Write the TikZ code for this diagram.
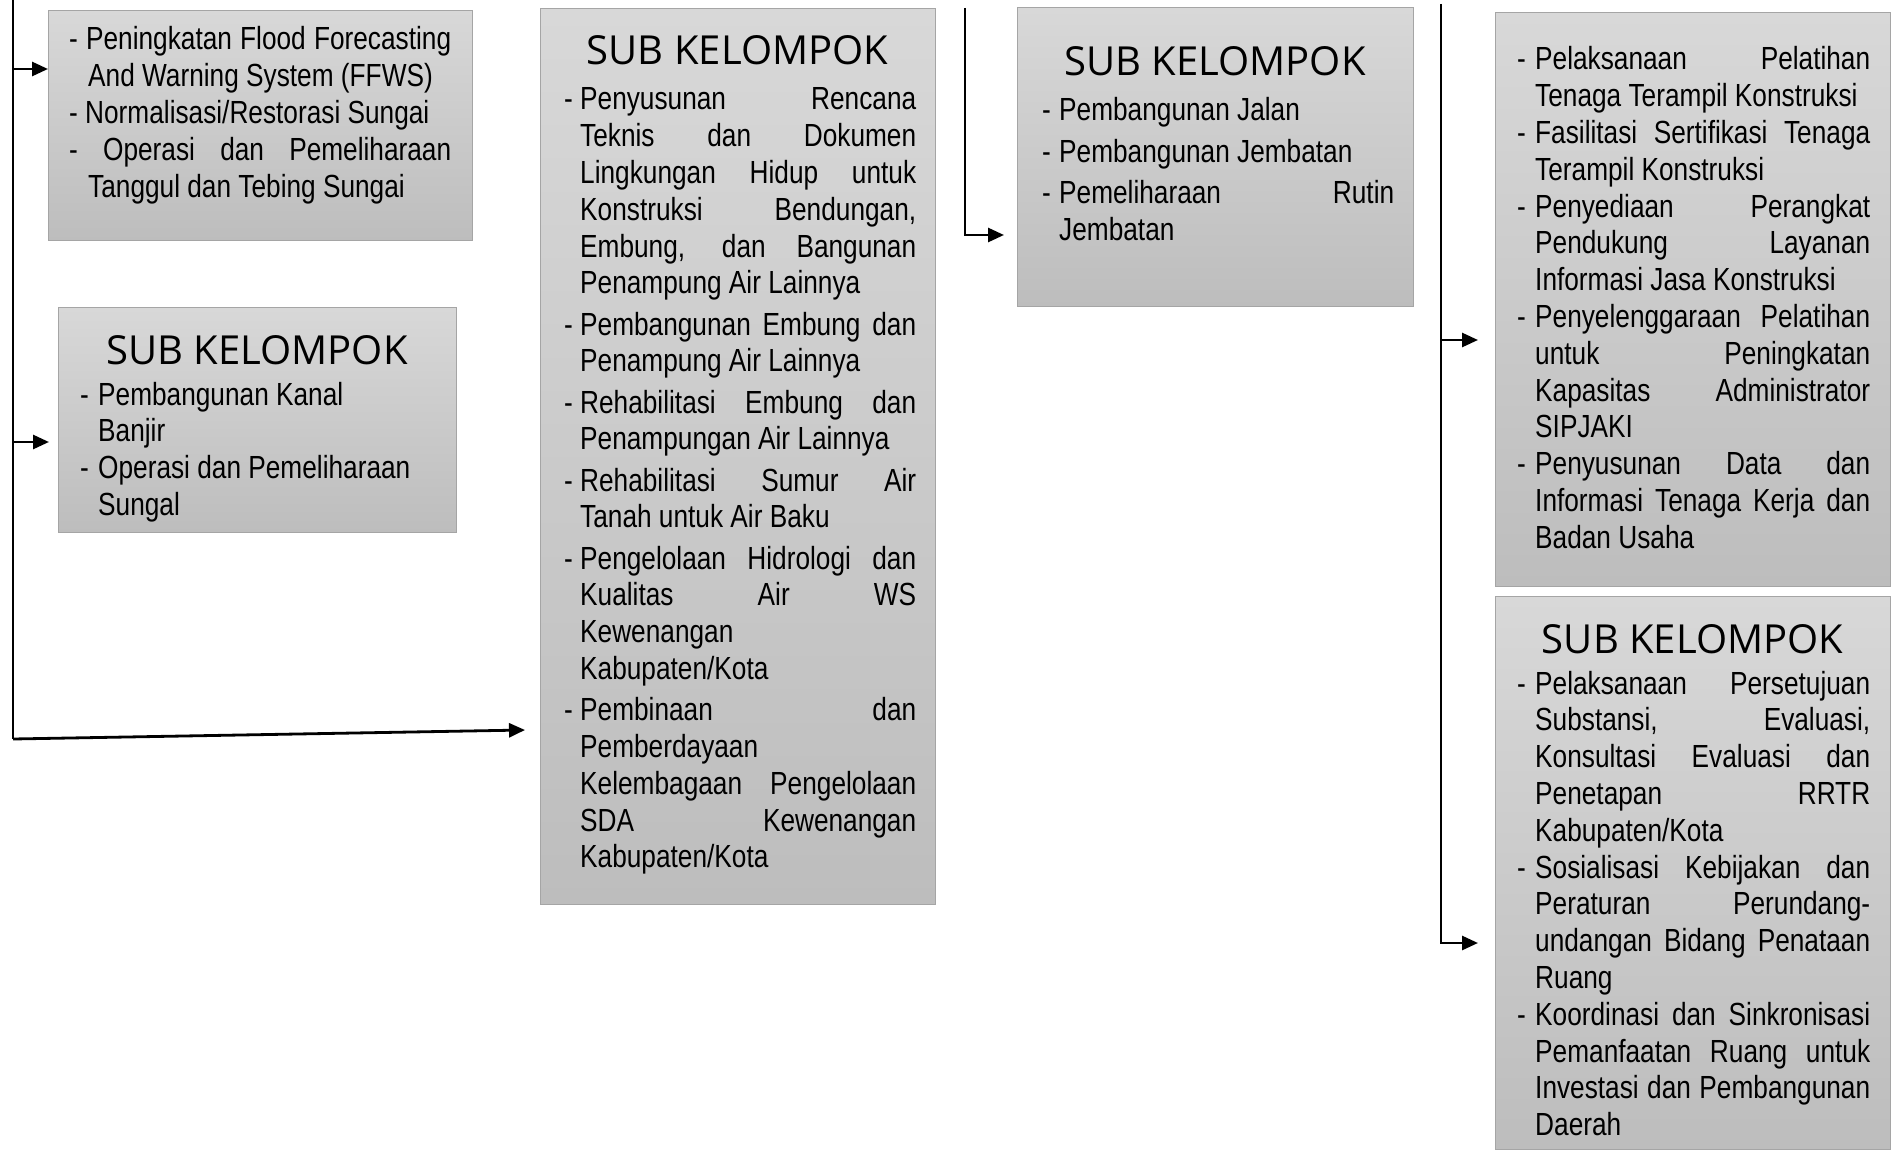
\documentclass[tikz,border=0pt]{standalone}
\usepackage{fontspec}
\newfontfamily\bodyfont{Liberation Sans}[FakeStretch=0.82]
\newfontfamily\headfont{Open Sans}
\usetikzlibrary{arrows.meta}
\definecolor{boxtop}{RGB}{216,216,216}
\definecolor{boxbot}{RGB}{189,189,189}
\definecolor{boxline}{RGB}{165,165,165}
\newdimen\hind
\newcommand\myIJ[1]{\hbox to \hsize{\hbox to \hind{-\hss}#1}}
\newcommand\myIR[1]{\hbox to \hsize{\hbox to \hind{-\hss}#1\hfil}}
\newcommand\myCJ[1]{\hbox to \hsize{\hskip\hind #1}}
\newcommand\myCR[1]{\hbox to \hsize{\hskip\hind #1\hfil}}
\newcommand\myPJ[1]{\hbox to \hsize{#1}}
\newcommand\myPR[1]{\hbox to \hsize{#1\hfil}}
\newcommand\igap{\vskip 4.4pt}
\newcommand\txtblock[3]{\vtop{\hsize=#1\hind=#2\baselineskip=36.8pt\lineskiplimit=-1000pt\lineskip=0pt #3}}
\tikzset{
  sbox/.style={rectangle, anchor=north west, inner sep=0pt, draw=boxline, line width=1.2pt,
    top color=boxtop, bottom color=boxbot},
  btext/.style={anchor=base west, inner sep=0pt, font=\bodyfont\fontsize{32}{36.8}\selectfont},
  head/.style={anchor=base, inner sep=0pt, font=\headfont\fontsize{40}{46}\selectfont},
  conn/.style={line width=2.8pt, black},
  arr/.style={conn, -{Triangle[length=16pt,width=14pt]}}
}
\begin{document}
\begin{tikzpicture}[x=1pt,y=-1pt]
\useasboundingbox (0,0) rectangle (1897,1155);
% boxes
\node[sbox, minimum width=424pt, minimum height=230pt] (b1) at (48,10) {};
\node[sbox, minimum width=398pt, minimum height=225pt] (b2) at (58,307) {};
\node[sbox, minimum width=395pt, minimum height=896pt] (b3) at (540,8) {};
\node[sbox, minimum width=396pt, minimum height=299pt] (b4) at (1017,7) {};
\node[sbox, minimum width=395pt, minimum height=574pt] (b5) at (1495,12) {};
\node[sbox, minimum width=395pt, minimum height=553pt] (b6) at (1495,596) {};
% headings
\node[head] (h2) at (257,364) {SUB KELOMPOK};
\node[head] (h3) at (737.5,65) {SUB KELOMPOK};
\node[head] (h4) at (1215,76) {SUB KELOMPOK};
\node[head] (h6) at (1692.5,653) {SUB KELOMPOK};
% texts
\node[btext] (t1) at (69,50) {\txtblock{382pt}{19pt}{%
  \myPJ{- Peningkatan Flood Forecasting}
  \myCR{And Warning System (FFWS)}
  \myPR{- Normalisasi/Restorasi Sungai}
  \myPJ{- Operasi dan Pemeliharaan}
  \myCR{Tanggul dan Tebing Sungai}}};
\node[btext] (t2) at (80,405) {\txtblock{340pt}{18pt}{%
  \myIR{Pembangunan Kanal}
  \myCR{Banjir}
  \myIR{Operasi dan Pemeliharaan}
  \myCR{Sungal}}};
\node[btext] (t3) at (564,110) {\txtblock{352pt}{16pt}{%
  \myIJ{Penyusunan Rencana}
  \myCJ{Teknis dan Dokumen}
  \myCJ{Lingkungan Hidup untuk}
  \myCJ{Konstruksi Bendungan,}
  \myCJ{Embung, dan Bangunan}
  \myCR{Penampung Air Lainnya}\igap
  \myIJ{Pembangunan Embung dan}
  \myCR{Penampung Air Lainnya}\igap
  \myIJ{Rehabilitasi Embung dan}
  \myCR{Penampungan Air Lainnya}\igap
  \myIJ{Rehabilitasi Sumur Air}
  \myCR{Tanah untuk Air Baku}\igap
  \myIJ{Pengelolaan Hidrologi dan}
  \myCJ{Kualitas Air WS}
  \myCR{Kewenangan}
  \myCR{Kabupaten/Kota}\igap
  \myIJ{Pembinaan dan}
  \myCR{Pemberdayaan}
  \myCJ{Kelembagaan Pengelolaan}
  \myCJ{SDA Kewenangan}
  \myCR{Kabupaten/Kota}}};
\node[btext] (t4) at (1042,121) {\txtblock{352pt}{17pt}{%
  \myIR{Pembangunan Jalan}\igap
  \myIR{Pembangunan Jembatan}\igap
  \myIJ{Pemeliharaan Rutin}
  \myCR{Jembatan}}};
\node[btext] (t5) at (1517,70) {\txtblock{353pt}{18pt}{%
  \myIJ{Pelaksanaan Pelatihan}
  \myCR{Tenaga Terampil Konstruksi}
  \myIJ{Fasilitasi Sertifikasi Tenaga}
  \myCR{Terampil Konstruksi}
  \myIJ{Penyediaan Perangkat}
  \myCJ{Pendukung Layanan}
  \myCR{Informasi Jasa Konstruksi}
  \myIJ{Penyelenggaraan Pelatihan}
  \myCJ{untuk Peningkatan}
  \myCJ{Kapasitas Administrator}
  \myCR{SIPJAKI}
  \myIJ{Penyusunan Data dan}
  \myCJ{Informasi Tenaga Kerja dan}
  \myCR{Badan Usaha}}};
\node[btext] (t6) at (1517,694) {\txtblock{353pt}{18pt}{%
  \myIJ{Pelaksanaan Persetujuan}
  \myCJ{Substansi, Evaluasi,}
  \myCJ{Konsultasi Evaluasi dan}
  \myCJ{Penetapan RRTR}
  \myCR{Kabupaten/Kota}
  \myIJ{Sosialisasi Kebijakan dan}
  \myCJ{Peraturan Perundang-}
  \myCJ{undangan Bidang Penataan}
  \myCR{Ruang}
  \myIJ{Koordinasi dan Sinkronisasi}
  \myCJ{Pemanfaatan Ruang untuk}
  \myCJ{Investasi dan Pembangunan}
  \myCR{Daerah}}};
% connectors
\coordinate (v1top) at (13,0);
\coordinate (v1bot) at (13,739);
\coordinate (j1) at (13,69);
\coordinate (j2) at (13,442);
\coordinate (e2) at (49,442);
\coordinate (e3) at (525,730);
\draw[conn] (v1top) -- (v1bot);
\draw[arr] (j1) -- (j1 -| b1.west);
\draw[arr] (j2) -- (e2);
\draw[arr] (v1bot) -- (e3);
\coordinate (v2top) at (965,8);
\coordinate (v2bot) at (965,235);
\coordinate (e4) at (1004,235);
\draw[arr] (v2top) -- (v2bot) -- (e4);
\coordinate (v3top) at (1441,4);
\coordinate (v3bot) at (1441,943);
\coordinate (j5) at (1441,340);
\coordinate (e5) at (1478,340);
\coordinate (e6) at (1478,943);
\draw[arr] (v3top) -- (v3bot) -- (e6);
\draw[arr] (j5) -- (e5);
\end{tikzpicture}
\end{document}
